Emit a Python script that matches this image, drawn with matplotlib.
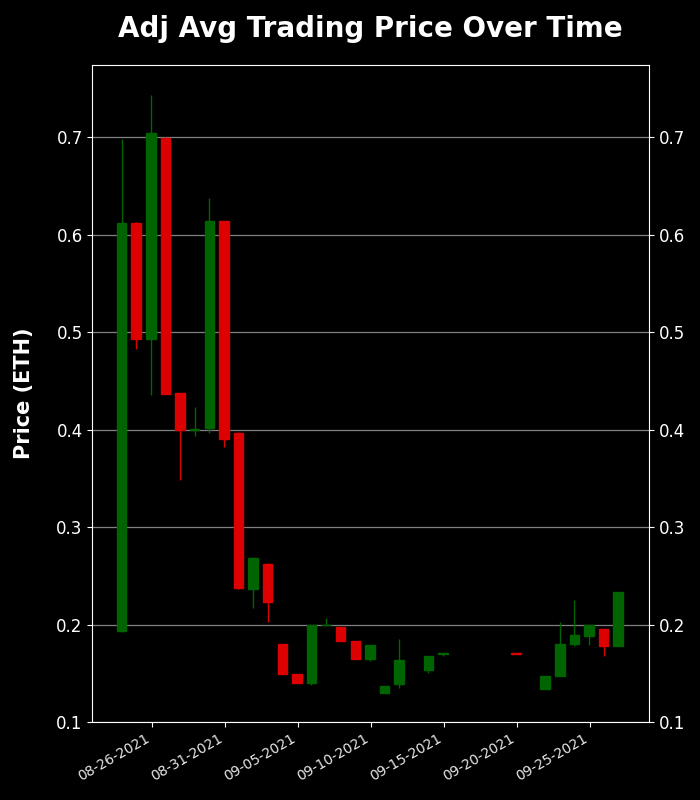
import numpy as np
import pandas as pd
import matplotlib
matplotlib.use('Agg')
import matplotlib.pyplot as plt
import matplotlib.dates as mdates

# daily candles, values (ETH)
dates = ['2021-08-24', '2021-08-25', '2021-08-26', '2021-08-27', '2021-08-28',
         '2021-08-29', '2021-08-30', '2021-08-31', '2021-09-01', '2021-09-02',
         '2021-09-03', '2021-09-04', '2021-09-05', '2021-09-06', '2021-09-07',
         '2021-09-08', '2021-09-09', '2021-09-10', '2021-09-11', '2021-09-12',
         '2021-09-14', '2021-09-15', '2021-09-20', '2021-09-22', '2021-09-23',
         '2021-09-24', '2021-09-25', '2021-09-26', '2021-09-27']
open_ = [0.193, 0.612, 0.493, 0.699, 0.438, 0.400, 0.4015, 0.614, 0.396, 0.236,
         0.2626, 0.1805, 0.1497, 0.1398, 0.199, 0.197, 0.1836, 0.1644, 0.1296, 0.1388,
         0.1532, 0.170, 0.1712, 0.1337, 0.147, 0.1798, 0.188, 0.1949, 0.1778]
high = [0.698, 0.613, 0.743, 0.700, 0.438, 0.423, 0.638, 0.614, 0.397, 0.269,
        0.263, 0.1805, 0.1497, 0.200, 0.2062, 0.197, 0.1836, 0.1785, 0.1374, 0.1856,
        0.1682, 0.1705, 0.1712, 0.1477, 0.2027, 0.2256, 0.1993, 0.1949, 0.2338]
low = [0.192, 0.483, 0.435, 0.437, 0.348, 0.393, 0.396, 0.3825, 0.236, 0.217,
       0.2024, 0.149, 0.1398, 0.1378, 0.199, 0.1829, 0.1644, 0.163, 0.1296, 0.1347,
       0.150, 0.1675, 0.170, 0.1337, 0.147, 0.1778, 0.1788, 0.1675, 0.1778]
close = [0.612, 0.493, 0.704, 0.437, 0.400, 0.401, 0.614, 0.390, 0.237, 0.2687,
         0.2229, 0.149, 0.1398, 0.199, 0.1995, 0.1829, 0.1644, 0.1785, 0.1374, 0.1641,
         0.1682, 0.1705, 0.170, 0.1477, 0.1805, 0.1897, 0.1993, 0.1778, 0.2338]
tick_dates = ['2021-08-26', '2021-08-31', '2021-09-05', '2021-09-10',
              '2021-09-15', '2021-09-20', '2021-09-25']

up_color = '#006400'
down_color = '#dd0000'

plt.style.use('dark_background')
fig = plt.figure(figsize=(7, 8), dpi=100)
ax = fig.add_axes([0.132, 0.0975, 0.795, 0.821])

x = mdates.date2num(pd.to_datetime(dates))
o = np.array(open_); c = np.array(close)
colors = [up_color if cc >= oo else down_color for oo, cc in zip(o, c)]

ax.vlines(x - 0.05, low, high, colors=colors, linewidth=1, zorder=2)
ax.bar(x - 0.05, np.abs(c - o), bottom=np.minimum(o, c), width=0.65, color=colors,
       edgecolor=colors, linewidth=1, zorder=3)

ax.set_xlim(x[0] - 2.05, x[-1] + 2.05)
ax.set_ylim(0.1, 0.7738)
ax.set_yticks([0.1, 0.2, 0.3, 0.4, 0.5, 0.6, 0.7])
ax.yaxis.grid(True, color='#808080', linewidth=0.9)
ax.set_axisbelow(True)

ax.set_xticks(mdates.date2num(pd.to_datetime(tick_dates)))
ax.xaxis.set_major_formatter(mdates.DateFormatter('%m-%d-%Y'))
plt.setp(ax.get_xticklabels(), rotation=30, ha='right', fontsize=10, color='#e8e8e8')

ax.tick_params(axis='y', labelsize=12, right=True, labelright=True)
for s in ax.spines.values():
    s.set_color('white')

ax.set_title('Adj Avg Trading Price Over Time', fontsize=20, fontweight='bold', pad=20)
ax.set_ylabel('Price (ETH)', fontsize=15, fontweight='bold', labelpad=16)

fig.savefig('out.png', dpi=100, facecolor='black')
